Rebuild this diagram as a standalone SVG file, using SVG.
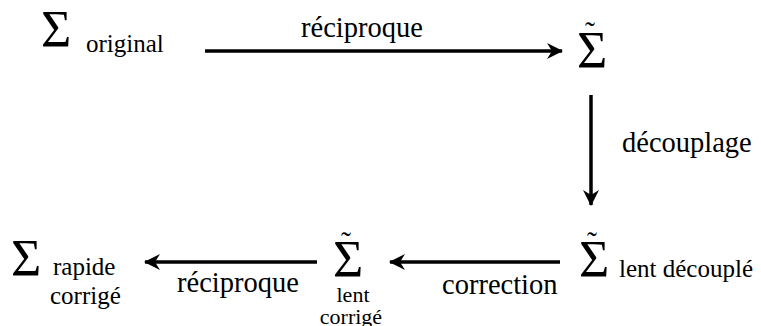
<svg xmlns="http://www.w3.org/2000/svg" width="761" height="326" viewBox="0 0 761 326">
<style>
.t{font-family:"Liberation Serif","Times New Roman",serif;fill:#000}
.sig{font-size:52px}
.lbl{font-size:28.5px}
.sub{font-size:25px}
.sm{font-size:22px}
.til{font-size:30px}
.conn line{stroke:#000;stroke-width:3.5;marker-end:url(#ah)}
</style>
<defs>
<marker id="ah" markerUnits="userSpaceOnUse" viewBox="-16 -9 18 18" refX="0" refY="0" markerWidth="18" markerHeight="18" orient="auto">
<path d="M1,0 L-15,-8 L-10,0 L-15,8 Z" fill="#000"/>
</marker>
</defs>
<rect width="761" height="326" fill="#fff"/>
<g id="n-original" class="t">
<text class="sig" x="41" y="47">Σ</text>
<text class="sub" x="86" y="52">original</text>
</g>
<g id="n-tilde" class="t">
<text class="til" x="585" y="42">˜</text>
<text class="sig" x="577" y="68">Σ</text>
</g>
<g id="n-lent-decouple" class="t">
<text class="til" x="587" y="252">˜</text>
<text class="sig" x="579" y="277">Σ</text>
<text class="sub" x="619" y="277">lent découplé</text>
</g>
<g id="n-lent-corrige" class="t">
<text class="til" x="341" y="252">˜</text>
<text class="sig" x="333" y="277">Σ</text>
<text class="sm" x="353" y="302" text-anchor="middle">lent</text>
<text class="sm" x="351" y="324" text-anchor="middle">corrigé</text>
</g>
<g id="n-rapide-corrige" class="t">
<text class="sig" x="11" y="276">Σ</text>
<text class="sub" x="53" y="275">rapide</text>
<text class="sub" x="50" y="304">corrigé</text>
</g>
<g id="connectors" class="conn">
<line x1="205" y1="51" x2="562" y2="51"/>
<line x1="591" y1="95" x2="591" y2="205"/>
<line x1="560" y1="262" x2="390" y2="262"/>
<line x1="317" y1="262" x2="145" y2="262"/>
</g>
<g id="labels" class="t">
<text class="lbl" x="301" y="37">réciproque</text>
<text class="lbl" x="622" y="152">découplage</text>
<text class="lbl" x="442" y="294">correction</text>
<text class="lbl" x="177" y="292">réciproque</text>
</g>
</svg>
